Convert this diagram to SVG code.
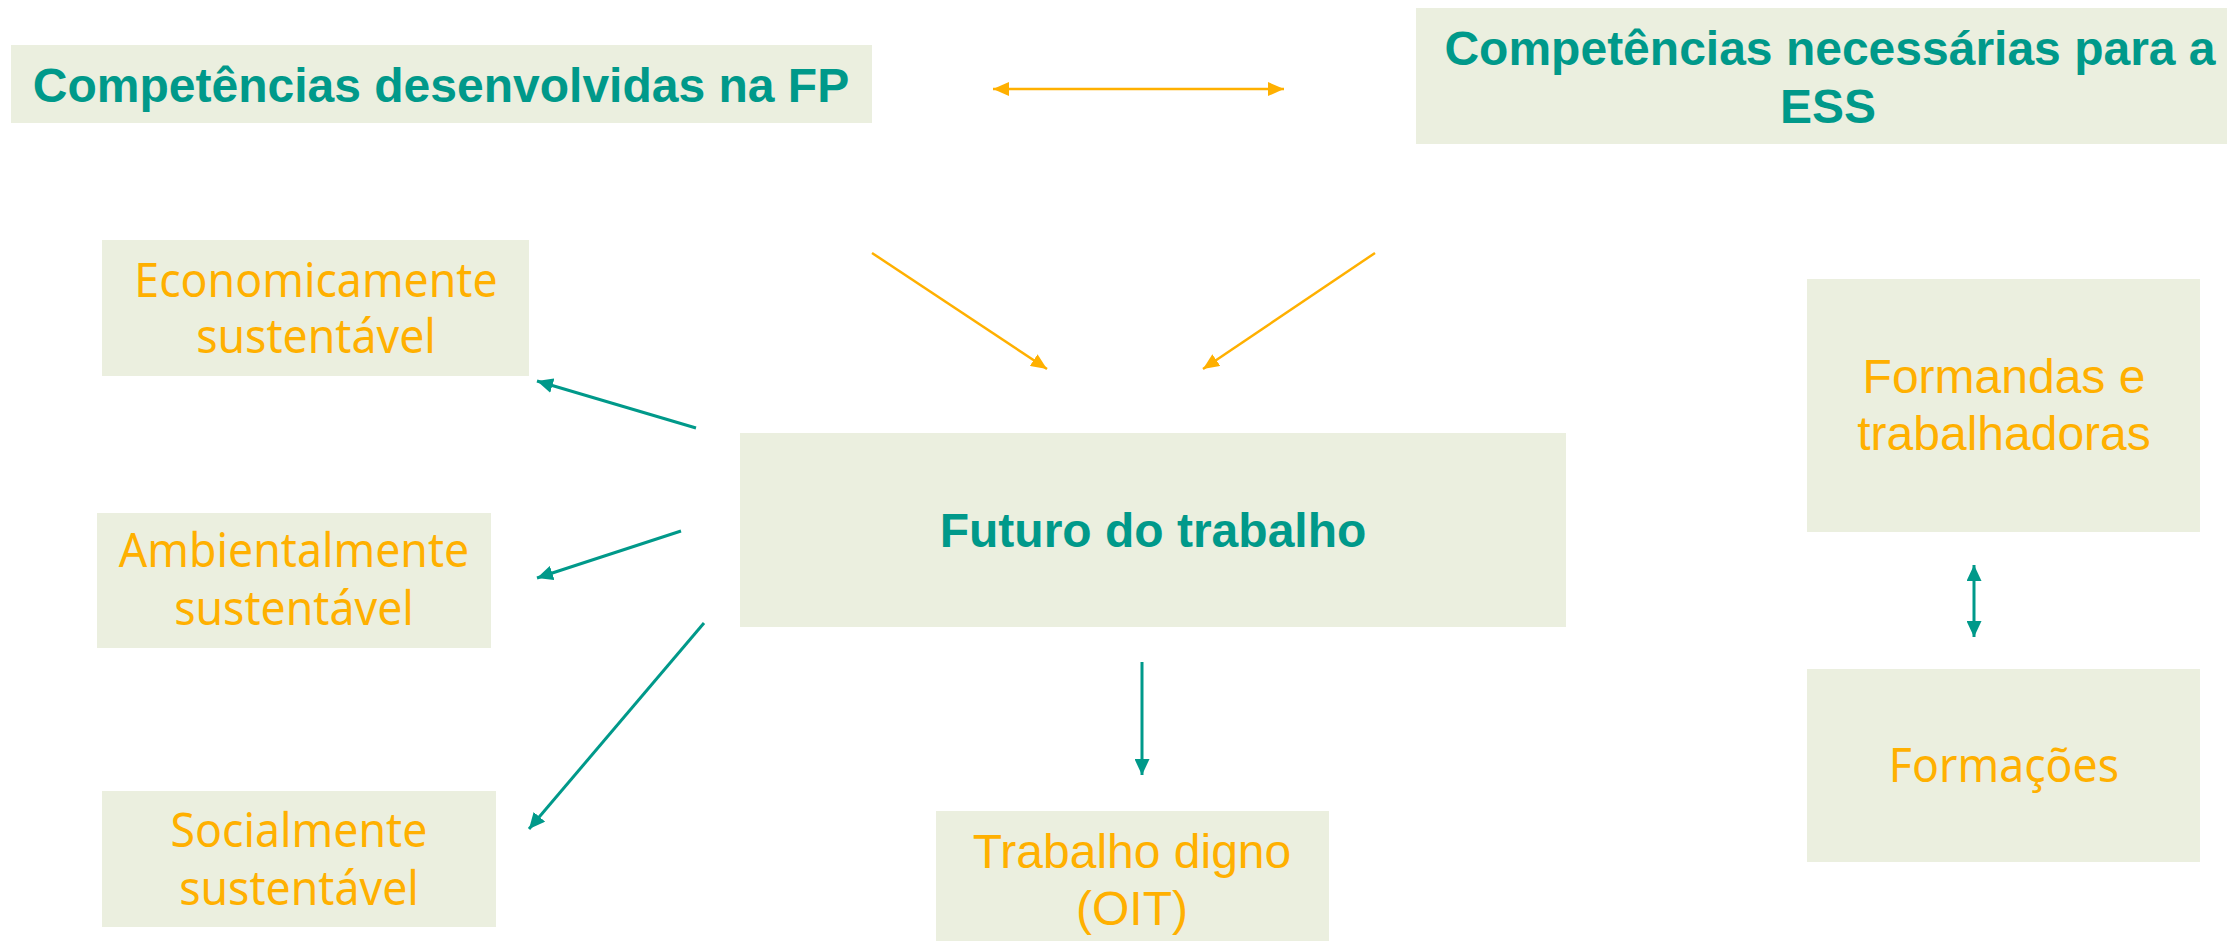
<svg xmlns="http://www.w3.org/2000/svg" width="2227" height="941" viewBox="0 0 2227 941">
<style>
.box{fill:#EBEFDF}
.hd{font-family:"Liberation Sans",Arial,sans-serif;font-weight:bold;font-size:48px;fill:#00998A;text-anchor:middle}
.ar{font-family:"Liberation Sans",Arial,sans-serif;font-size:48px;fill:#FFB000;text-anchor:middle}
.sg{font-family:"Noto Sans","Open Sans",sans-serif;font-size:48px;fill:#FFB000;text-anchor:middle}
.lo{stroke:#FFB000;stroke-width:2.5;fill:none}
.lt{stroke:#00998A;stroke-width:3;fill:none}
</style>
<defs>
<marker id="ho" markerUnits="userSpaceOnUse" markerWidth="16" markerHeight="14" refX="16" refY="7" orient="auto-start-reverse" viewBox="0 0 16 14"><path d="M0,0 L16,7 L0,14 z" fill="#FFB000"/></marker>
<marker id="ht" markerUnits="userSpaceOnUse" markerWidth="16" markerHeight="15" refX="16" refY="7.5" orient="auto-start-reverse" viewBox="0 0 16 15"><path d="M0,0 L16,7.5 L0,15 z" fill="#00998A"/></marker>
</defs>
<rect width="2227" height="941" fill="#FFFFFF"/>
<g id="node-fp">
<rect class="box" x="11" y="45" width="861" height="78"/>
<text class="hd" x="441" y="102">Competências desenvolvidas na FP</text>
</g>
<g id="node-ess">
<rect class="box" x="1416" y="8" width="811" height="136"/>
<text class="hd" x="1830" y="65">Competências necessárias para a</text>
<text class="hd" x="1828" y="123">ESS</text>
</g>
<g id="node-eco">
<rect class="box" x="102" y="240" width="427" height="136"/>
<text class="sg" transform="translate(316 297) scale(0.93 1)">Economicamente</text>
<text class="sg" transform="translate(316 353) scale(0.93 1)">sustentável</text>
</g>
<g id="node-amb">
<rect class="box" x="97" y="513" width="394" height="135"/>
<text class="sg" transform="translate(294 567) scale(0.93 1)">Ambientalmente</text>
<text class="sg" transform="translate(294 625) scale(0.93 1)">sustentável</text>
</g>
<g id="node-soc">
<rect class="box" x="102" y="791" width="394" height="136"/>
<text class="sg" transform="translate(299 847) scale(0.93 1)">Socialmente</text>
<text class="sg" transform="translate(299 905) scale(0.93 1)">sustentável</text>
</g>
<g id="node-futuro">
<rect class="box" x="740" y="433" width="826" height="194"/>
<text class="hd" x="1153" y="547">Futuro do trabalho</text>
</g>
<g id="node-digno">
<rect class="box" x="936" y="811" width="393" height="130"/>
<text class="ar" x="1132" y="868">Trabalho digno</text>
<text class="ar" x="1132" y="925">(OIT)</text>
</g>
<g id="node-formandas">
<rect class="box" x="1807" y="279" width="393" height="253"/>
<text class="ar" x="2004" y="393">Formandas e</text>
<text class="ar" x="2004" y="450">trabalhadoras</text>
</g>
<g id="node-formacoes">
<rect class="box" x="1807" y="669" width="393" height="193"/>
<text class="sg" transform="translate(2004 782) scale(0.93 1)">Formações</text>
</g>
<g id="connectors">
<line class="lo" x1="993" y1="89" x2="1284" y2="89" marker-start="url(#ho)" marker-end="url(#ho)"/>
<line class="lo" x1="872" y1="253" x2="1047" y2="369" marker-end="url(#ho)"/>
<line class="lo" x1="1375" y1="253" x2="1203" y2="369" marker-end="url(#ho)"/>
<line class="lt" x1="696" y1="428" x2="537" y2="381" marker-end="url(#ht)"/>
<line class="lt" x1="681" y1="531" x2="537" y2="578" marker-end="url(#ht)"/>
<line class="lt" x1="704" y1="623" x2="529" y2="829" marker-end="url(#ht)"/>
<line class="lt" x1="1142" y1="662" x2="1142" y2="775" marker-end="url(#ht)"/>
<line class="lt" x1="1974" y1="565" x2="1974" y2="637" marker-start="url(#ht)" marker-end="url(#ht)"/>
</g>
</svg>
